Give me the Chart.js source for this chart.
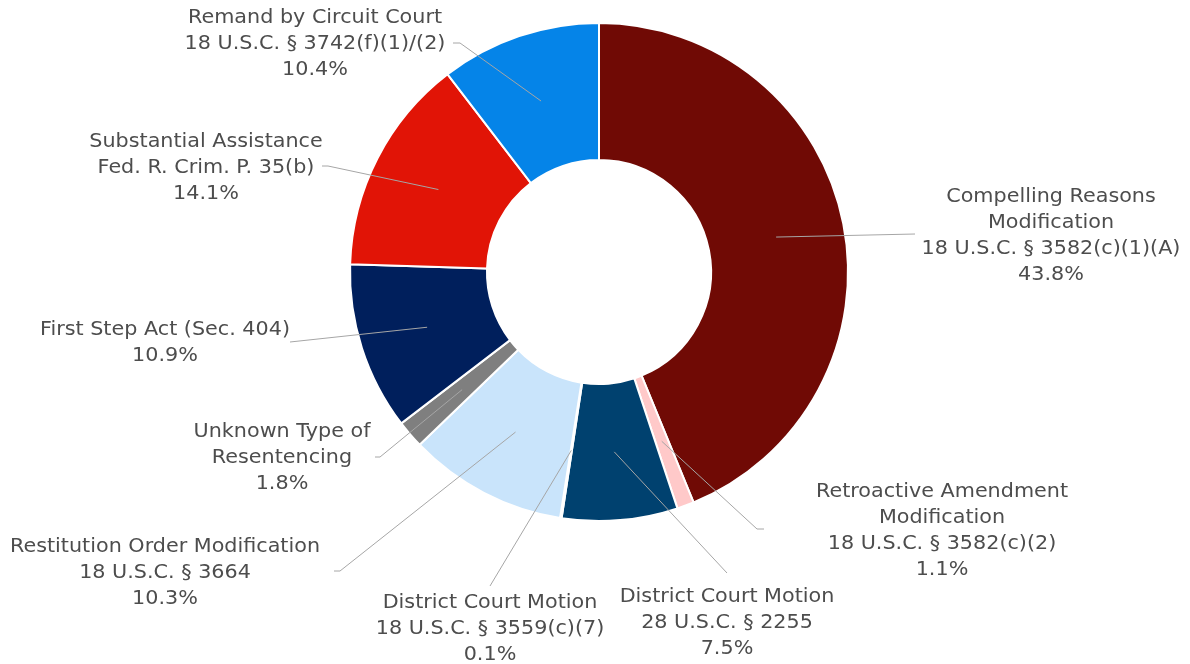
<!DOCTYPE html>
<html>
<head>
<meta charset="utf-8">
<script src="https://cdn.jsdelivr.net/npm/chart.js@4/dist/chart.umd.min.js"></script>
<style>
  html, body { margin: 0; padding: 0; background: #fff; }
  #wrap { width: 1190px; height: 664px; position: relative; }
</style>
</head>
<body>
<div id="wrap"><canvas id="chart" width="1190" height="664"></canvas></div>
<script>
// Data (share of resentencing types, %)
const categories = [
    ['Compelling Reasons', 'Modification', '18 U.S.C. § 3582(c)(1)(A)'],
    ['Retroactive Amendment', 'Modification', '18 U.S.C. § 3582(c)(2)'],
    ['District Court Motion', '28 U.S.C. § 2255'],
    ['District Court Motion', '18 U.S.C. § 3559(c)(7)'],
    ['Restitution Order Modification', '18 U.S.C. § 3664'],
    ['Unknown Type of', 'Resentencing'],
    ['First Step Act (Sec. 404)'],
    ['Substantial Assistance', 'Fed. R. Crim. P. 35(b)'],
    ['Remand by Circuit Court', '18 U.S.C. § 3742(f)(1)/(2)']
];
const shares = [43.8, 1.1, 7.5, 0.1, 10.3, 1.8, 10.9, 14.1, 10.4];
const sliceColors = ['#700a05', '#ffc9c9', '#00416f', '#ffffff', '#c9e4fb', '#7f7f7f', '#001f5c', '#e11406', '#0584e8'];

// Label placement: text centre x, first line centre y, leader end point, optional short tail
const labelLayout = [
    { x: 1051, y: 197, end: [915, 234], tail: 0 },
    { x: 942,  y: 492, end: [757, 529], tail: 7 },
    { x: 727,  y: 597, end: [727, 573], tail: 0 },
    { x: 490,  y: 603, end: [490, 586], tail: 0 },
    { x: 165,  y: 547, end: [340, 571], tail: -6 },
    { x: 282,  y: 432, end: [380, 457], tail: -5 },
    { x: 165,  y: 330, end: [290, 342], tail: 0 },
    { x: 206,  y: 142, end: [328, 166], tail: -6 },
    { x: 315,  y: 18,  end: [460, 43],  tail: -7 }
];
const lineGap = 26;

const calloutPlugin = {
    id: 'callouts',
    afterDatasetsDraw(chart) {
        const ctx = chart.ctx;
        const arcs = chart.getDatasetMeta(0).data;
        ctx.save();
        // leader lines from the arc centroid
        ctx.strokeStyle = '#a6a6a6';
        ctx.lineWidth = 1;
        arcs.forEach((arc, i) => {
            const p = arc.getCenterPoint();
            const lay = labelLayout[i];
            ctx.beginPath();
            ctx.moveTo(p.x, p.y);
            ctx.lineTo(lay.end[0], lay.end[1]);
            if (lay.tail) ctx.lineTo(lay.end[0] + lay.tail, lay.end[1]);
            ctx.stroke();
        });
        // label text, stretched a little to mimic the wide geometric face
        ctx.fillStyle = '#4d4d4d';
        ctx.font = '19px "Century Gothic", "DejaVu Sans", sans-serif';
        ctx.textAlign = 'center';
        ctx.textBaseline = 'middle';
        categories.forEach((lines, i) => {
            const lay = labelLayout[i];
            const all = lines.concat([shares[i].toFixed(1) + '%']);
            all.forEach((t, k) => {
                ctx.save();
                ctx.translate(lay.x, lay.y + k * lineGap);
                ctx.scale(1.09, 1);
                ctx.fillText(t, 0, 0);
                ctx.restore();
            });
        });
        ctx.restore();
    }
};

new Chart(document.getElementById('chart'), {
    type: 'doughnut',
    data: {
        labels: categories.map(c => c.join(' ')),
        datasets: [{
            data: shares,
            backgroundColor: sliceColors,
            borderColor: '#ffffff',
            borderWidth: 2
        }]
    },
    options: {
        responsive: false,
        animation: false,
        cutout: '45%',
        layout: { padding: { left: 349, right: 341, top: 22, bottom: 142 } },
        plugins: {
            legend: { display: false },
            tooltip: { enabled: false }
        }
    },
    plugins: [calloutPlugin]
});
</script>
</body>
</html>
